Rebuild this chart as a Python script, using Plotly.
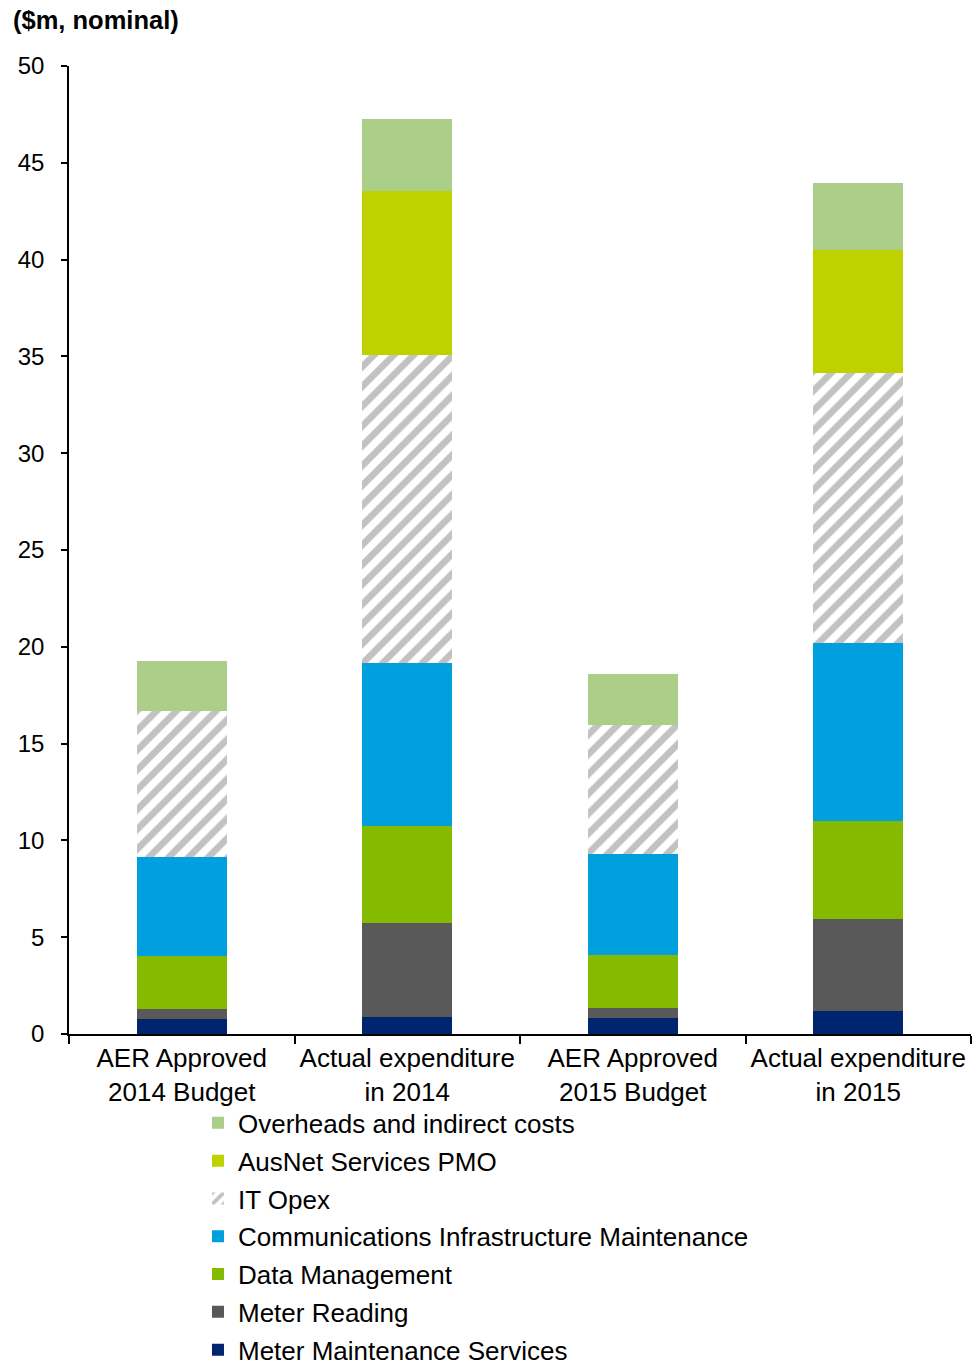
import plotly.graph_objects as go

# Categories along the x axis
categories = [
    "AER Approved<br>2014 Budget",
    "Actual expenditure<br>in 2014",
    "AER Approved<br>2015 Budget",
    "Actual expenditure<br>in 2015",
]

# Cost components ($m, nominal), bottom of the stack first
meter_maintenance = [0.79, 0.86, 0.83, 1.19]
meter_reading = [0.52, 4.85, 0.49, 4.76]
data_management = [2.70, 5.04, 2.77, 5.06]
comms_infrastructure = [5.11, 8.43, 5.22, 9.18]
it_opex = [7.55, 15.89, 6.66, 13.97]
ausnet_pmo = [0.0, 8.48, 0.0, 6.33]
overheads = [2.62, 3.70, 2.63, 3.47]

y_ticks = [0, 5, 10, 15, 20, 25, 30, 35, 40, 45, 50]

series = [
    ("Meter Maintenance Services", meter_maintenance, "#00256F", None),
    ("Meter Reading", meter_reading, "#595959", None),
    ("Data Management", data_management, "#84BB00", None),
    ("Communications Infrastructure Maintenance", comms_infrastructure, "#00A0DF", None),
    ("IT Opex", it_opex, "white", dict(shape="/", fgcolor="#858585", bgcolor="white",
                                      size=14, solidity=0.48, fillmode="overlay")),
    ("AusNet Services PMO", ausnet_pmo, "#BED200", None),
    ("Overheads and indirect costs", overheads, "#ABCE88", None),
]

FONT = "Liberation Sans, Arial, sans-serif"

fig = go.Figure()
n = len(series)
for i, (name, vals, color, pattern) in enumerate(series):
    marker = dict(color=color, line=dict(width=0))
    if pattern:
        marker["pattern"] = pattern
    fig.add_trace(go.Bar(
        x=categories, y=vals, name=name, marker=marker,
        width=0.4, legendgroup=f"g{i}", legendrank=n - i,
    ))

fig.update_layout(
    width=974, height=1368,
    barmode="stack",
    plot_bgcolor="white", paper_bgcolor="white",
    margin=dict(l=69, r=3, t=66, b=334, autoexpand=False),
    font=dict(family=FONT, size=26, color="black"),
    showlegend=True,
    legend=dict(
        orientation="v", traceorder="grouped", tracegroupgap=1,
        x=0.143, xanchor="left", y=-0.0676, yanchor="top",
        font=dict(size=26, family=FONT), bgcolor="rgba(0,0,0,0)",
        itemclick=False,
    ),
    annotations=[dict(
        text="<b>($m, nominal)</b>", xref="paper", yref="paper",
        x=-58 / 902, y=1 + 46 / 968, xanchor="left", yanchor="middle",
        showarrow=False, font=dict(size=25.5, family=FONT, color="black"),
    )],
)

fig.update_xaxes(
    type="category", showline=True, linecolor="black", linewidth=2,
    ticks="outside", tickson="boundaries", ticklen=8, tickcolor="black", tickwidth=2,
    tickfont=dict(size=26, family=FONT, color="black"), showgrid=False,
)
fig.update_yaxes(
    range=[0, 50], tickvals=y_ticks, showline=True, linecolor="black", linewidth=1.5,
    ticks="outside", ticklen=6, tickcolor="black", tickwidth=1.5,
    ticklabelstandoff=12,
    tickfont=dict(size=24, family=FONT, color="black"), showgrid=False, zeroline=False,
)

fig.write_html("out.html")
